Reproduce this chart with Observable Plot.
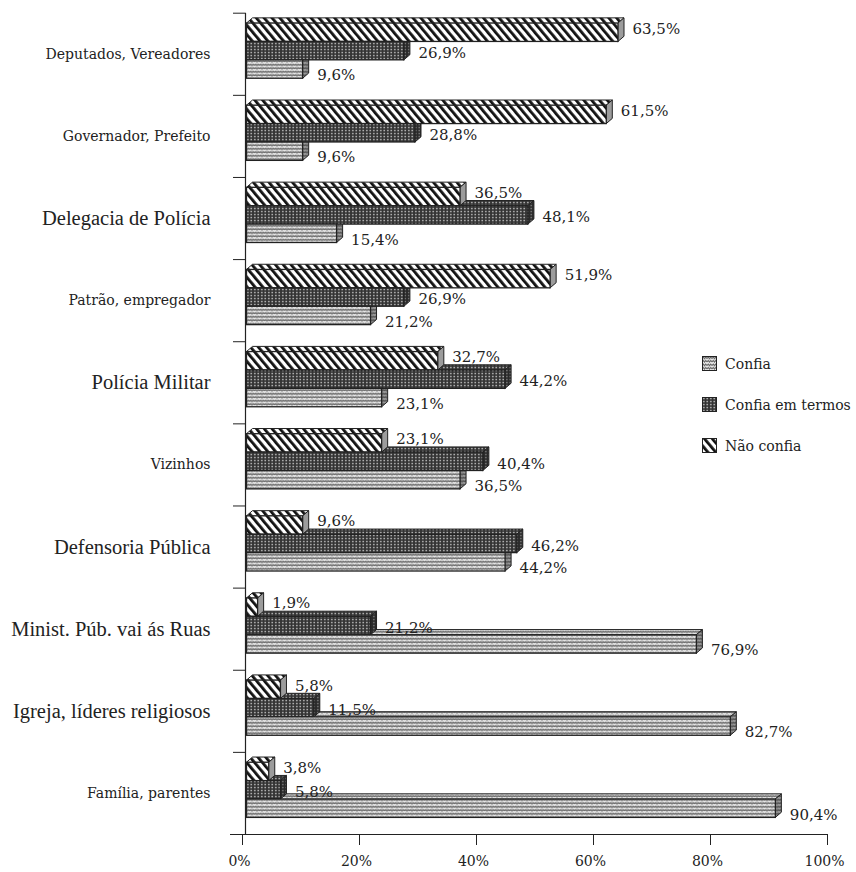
<!DOCTYPE html>
<html>
<head>
<meta charset="utf-8">
<script src="https://cdn.jsdelivr.net/npm/d3@7"></script>
<script src="https://cdn.jsdelivr.net/npm/@observablehq/plot@0.6"></script>
<style>
  body { margin: 0; background: #fff; }
  #wrap { position: relative; width: 856px; height: 872px; overflow: hidden; background: #fff; }
  #legend { position: absolute; left: 702px; top: 356px; font-family: "DejaVu Serif"; font-size: 14px; color: #222; }
  .item { display: flex; align-items: center; height: 15px; margin-bottom: 26px; white-space: nowrap; }
  .item svg { margin-right: 8px; flex: none; }
</style>
</head>
<body>
<div id="wrap">
  <svg width="0" height="0" style="position:absolute">
    <defs>
      <pattern id="pConfia" patternUnits="userSpaceOnUse" width="5" height="3.5">
        <rect width="5" height="3.5" fill="#efefef"/>
        <path d="M0,2.6 L1.25,1 L2.5,2.6 L3.75,1 L5,2.6" fill="none" stroke="#555" stroke-width="1"/>
      </pattern>
      <pattern id="pConfiaSide" patternUnits="userSpaceOnUse" width="5" height="3.5">
        <rect width="5" height="3.5" fill="#a0a0a0"/>
        <path d="M0,2.6 L1.25,1 L2.5,2.6 L3.75,1 L5,2.6" fill="none" stroke="#444" stroke-width="1"/>
      </pattern>
      <pattern id="pTermos" patternUnits="userSpaceOnUse" width="3.5" height="3">
        <rect width="3.5" height="3" fill="#333"/>
        <rect x="1" y="0.8" width="1.6" height="1.5" fill="#b4b4b4"/>
      </pattern>
      <pattern id="pTermosSide" patternUnits="userSpaceOnUse" width="3.5" height="3">
        <rect width="3.5" height="3" fill="#2a2a2a"/>
        <rect x="1" y="0.8" width="1.6" height="1.5" fill="#777"/>
      </pattern>
      <pattern id="pNao" patternUnits="userSpaceOnUse" width="6" height="6" patternTransform="rotate(-40)">
        <rect width="6" height="6" fill="#fff"/>
        <rect width="2.8" height="6" fill="#111"/>
      </pattern>
    </defs>
  </svg>
  <div id="chart"></div>
  <div id="legend"></div>
</div>
<script>
// Institutions, top to bottom
const categories = [
  "Deputados, Vereadores",
  "Governador, Prefeito",
  "Delegacia de Polícia",
  "Patrão, empregador",
  "Polícia Militar",
  "Vizinhos",
  "Defensoria Pública",
  "Minist. Púb. vai ás Ruas",
  "Igreja, líderes religiosos",
  "Família, parentes"
];
// Percent of answers per level of trust
const naoConfia      = [63.5, 61.5, 36.5, 51.9, 32.7, 23.1,  9.6,  1.9,  5.8,  3.8];
const confiaEmTermos = [26.9, 28.8, 48.1, 26.9, 44.2, 40.4, 46.2, 21.2, 11.5,  5.8];
const confia         = [ 9.6,  9.6, 15.4, 21.2, 23.1, 36.5, 44.2, 76.9, 82.7, 90.4];
const seriesNames = ["Confia", "Confia em termos", "Não confia"];
const xTicks = [0, 20, 40, 60, 80, 100];

// Labels typeset in the larger face
const largeLabels = new Set([
  "Delegacia de Polícia", "Polícia Militar", "Defensoria Pública",
  "Minist. Púb. vai ás Ruas", "Igreja, líderes religiosos"
]);

// Box geometry (x in percent, y in category units)
const DX = 1.03, DY = 0.063, OFF = 0.126, H = 0.224, SHIFT = 4.5;
const ink = "#222";
const serif = "DejaVu Serif";

const series = [
  {name: "Não confia",       values: naoConfia,      slot: 0, front: "url(#pNao)",    top: "url(#pNao)",    side: "#9c9c9c",            labelDy: -4},
  {name: "Confia em termos", values: confiaEmTermos, slot: 1, front: "url(#pTermos)", top: "url(#pTermos)", side: "url(#pTermosSide)", labelDy: 2},
  {name: "Confia",           values: confia,         slot: 2, front: "url(#pConfia)", top: "url(#pConfia)", side: "url(#pConfiaSide)", labelDy: 6}
].map(s => ({
  ...s,
  boxes: s.values.map((v, i) => ({i, v, yt: i + OFF + s.slot * H, yb: i + OFF + (s.slot + 1) * H}))
}));

const fmt = v => v.toFixed(1).replace(".", ",") + "%";

const topMarks = series.map(s => Plot.areaX(
  s.boxes.flatMap(b => [
    {id: b.i, x1: 0, x2: b.v, y: b.yt},
    {id: b.i, x1: DX, x2: b.v + DX, y: b.yt - DY}
  ]),
  {x1: "x1", x2: "x2", y: "y", z: "id", curve: "linear", fill: s.top, stroke: ink, strokeWidth: 1, dx: SHIFT}
));

const sideMarks = series.map(s => Plot.areaY(
  s.boxes.flatMap(b => [
    {id: b.i, x: b.v, y1: b.yb, y2: b.yt},
    {id: b.i, x: b.v + DX, y1: b.yb - DY, y2: b.yt - DY}
  ]),
  {x: "x", y1: "y1", y2: "y2", z: "id", curve: "linear", fill: s.side, stroke: ink, strokeWidth: 1, dx: SHIFT}
));

const frontMarks = series.map(s => Plot.rect(s.boxes, {
  x1: 0, x2: "v", y1: "yt", y2: "yb", fill: s.front, stroke: ink, strokeWidth: 1.3, dx: SHIFT
}));

const labelMarks = series.map(s => Plot.text(s.boxes, {
  x: d => d.v + DX, y: d => (d.yt + d.yb) / 2, text: d => fmt(d.v),
  textAnchor: "start", dx: SHIFT + 8, dy: s.labelDy,
  fontFamily: serif, fontSize: 15, fill: ink
}));

const centers = categories.map((c, i) => i + 0.5);

const chart = Plot.plot({
  width: 856,
  height: 872,
  marginLeft: 242,
  marginRight: 29,
  marginTop: 12.7,
  marginBottom: 38,
  x: {domain: [0, 100]},
  y: {domain: [0, 10], reverse: true},
  style: {background: "white", color: ink, fontFamily: serif},
  marks: [
    // axes
    Plot.ruleY([10], {x1: -2.05, x2: 100, stroke: ink, strokeWidth: 1.2}),
    Plot.ruleX([0], {y1: 0, y2: 10, dx: 3, stroke: ink, strokeWidth: 1.2}),
    Plot.axisY({anchor: "left", ticks: d3.range(0, 10), tickSize: 12, tickFormat: () => "", dx: 3, stroke: ink}),
    Plot.axisY({anchor: "left", ticks: centers.filter(t => !largeLabels.has(categories[Math.floor(t)])),
      tickSize: 0, tickPadding: 32, tickFormat: t => categories[Math.floor(t)],
      fontFamily: serif, fontSize: 14, fill: ink}),
    Plot.axisY({anchor: "left", ticks: centers.filter(t => largeLabels.has(categories[Math.floor(t)])),
      tickSize: 0, tickPadding: 32, tickFormat: t => categories[Math.floor(t)],
      fontFamily: "Liberation Serif", fontSize: 20.5, fill: ink}),
    Plot.axisX({anchor: "bottom", ticks: xTicks, tickSize: 11, tickFormat: () => "", stroke: ink}),
    Plot.axisX({anchor: "bottom", ticks: xTicks, tickSize: 0, tickPadding: 22, dx: -3,
      tickFormat: d => d + "%", fontFamily: serif, fontSize: 14, fill: ink}),
    // 3D bars
    ...topMarks,
    ...sideMarks,
    ...frontMarks,
    ...labelMarks
  ]
});
document.getElementById("chart").append(chart);

// Legend
const legendFills = {"Confia": "url(#pConfia)", "Confia em termos": "url(#pTermos)", "Não confia": "url(#pNao)"};
const legend = document.getElementById("legend");
for (const name of seriesNames) {
  const item = document.createElement("div");
  item.className = "item";
  item.innerHTML = `<svg width="15" height="15"><rect x="0.5" y="0.5" width="14" height="14" fill="${legendFills[name]}" stroke="${ink}"/></svg><span>${name}</span>`;
  legend.append(item);
}
</script>
</body>
</html>
